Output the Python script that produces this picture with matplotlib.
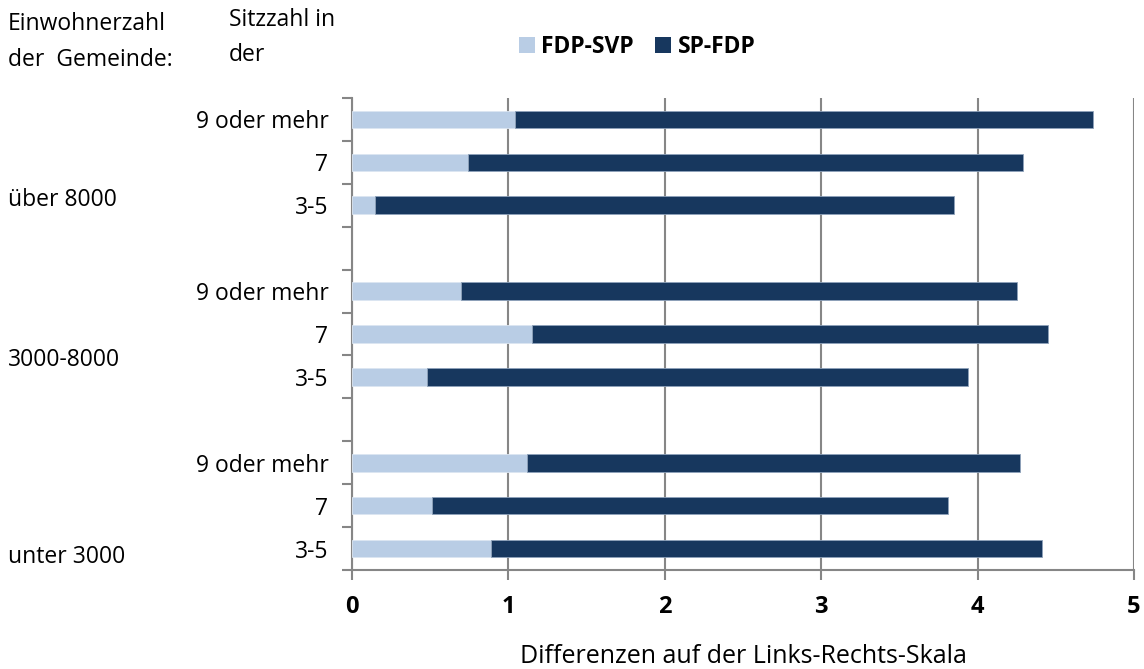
import matplotlib
matplotlib.use("Agg")
import matplotlib.pyplot as plt
from matplotlib.patches import Patch

plt.rcParams['font.family'] = ['Open Sans', 'DejaVu Sans']

categories = ["9 oder mehr", "7", "3-5", "", "9 oder mehr", "7", "3-5", "", "9 oder mehr", "7", "3-5"]
fdp_svp = [1.04, 0.74, 0.15, 0, 0.70, 1.15, 0.48, 0, 1.12, 0.51, 0.89]
total = [4.74, 4.29, 3.85, 0, 4.25, 4.45, 3.94, 0, 4.27, 3.81, 4.41]
sp_fdp = [t - f for t, f in zip(total, fdp_svp)]
groups = ["über 8000", "3000-8000", "unter 3000"]
series_names = ["FDP-SVP", "SP-FDP"]
xticks = [0, 1, 2, 3, 4, 5]

light = "#B9CDE5"
dark = "#17375E"
gray = "#868686"
FS = 16.5

W, H = 1144, 669
fig = plt.figure(figsize=(W / 100, H / 100), dpi=100)
ax = fig.add_axes([352 / W, 1 - 570 / H, (1134 - 352) / W, (570 - 98) / H])

n = len(categories)
ys = list(range(n))
mask = [c != "" for c in categories]
yy = [y for y, m in zip(ys, mask) if m]
ax.barh(yy, [v for v, m in zip(fdp_svp, mask) if m], height=0.41, color=light,
        edgecolor="#DCE6F2", linewidth=0.6, zorder=3)
ax.barh(yy, [v for v, m in zip(sp_fdp, mask) if m], left=[v for v, m in zip(fdp_svp, mask) if m],
        height=0.41, color=dark, edgecolor="#8EA2BA", linewidth=0.6, zorder=3)

ax.set_ylim(n - 0.5, -0.5)
ax.set_xlim(0, 5)
ax.set_yticks(ys)
ax.set_yticklabels(categories, fontsize=FS)
ax.set_yticks([i - 0.5 for i in range(n + 1)], minor=True)
ax.tick_params(axis='y', which='major', length=0, pad=17)
ax.tick_params(axis='y', which='minor', length=7, color=gray, width=1.5)
ax.set_xticks(xticks)
ax.set_xticklabels([str(t) for t in xticks], fontsize=17, fontweight='bold')
ax.tick_params(axis='x', length=7, color=gray, width=1.5, pad=11)
ax.grid(axis='x', color=gray, linewidth=1.5, zorder=0)
for s in ['top', 'right']:
    ax.spines[s].set_visible(False)
for s in ['left', 'bottom']:
    ax.spines[s].set_color(gray)
    ax.spines[s].set_linewidth(1.5)

ax.set_xlabel("Differenzen auf der Links-Rechts-Skala", fontsize=18, labelpad=18)

# group labels
for g, ypix in zip(groups, [200, 360, 557]):
    fig.text(8 / W, 1 - ypix / H, g, fontsize=FS, ha='left', va='center')

fig.text(8 / W, 1 - 24 / H, "Einwohnerzahl", fontsize=FS, ha='left', va='center')
fig.text(8 / W, 1 - 60 / H, "der  Gemeinde:", fontsize=FS, ha='left', va='center')
fig.text(229 / W, 1 - 20 / H, "Sitzzahl in", fontsize=FS, ha='left', va='center')
fig.text(229 / W, 1 - 55 / H, "der", fontsize=FS, ha='left', va='center')

handles = [Patch(facecolor=light), Patch(facecolor=dark)]
fig.legend(handles, series_names, loc='center', bbox_to_anchor=(637 / W, 1 - 47 / H), ncol=2,
           frameon=False, prop={'weight': 'bold', 'size': 16.5}, handlelength=0.7, handleheight=0.7,
           handletextpad=0.3, columnspacing=0.9)

fig.savefig("out.png", dpi=100)
